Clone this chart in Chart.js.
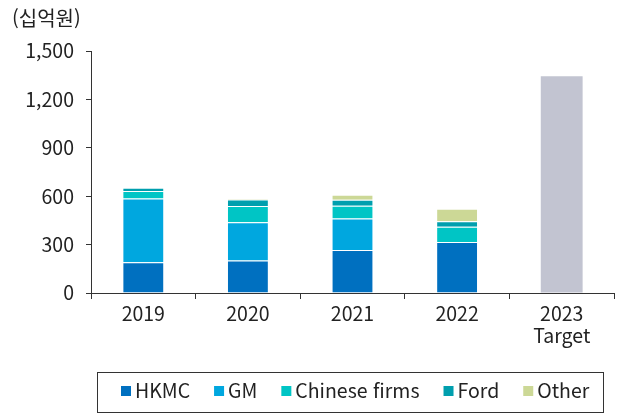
<!DOCTYPE html>
<html lang="ko">
<head>
<meta charset="UTF-8">
<title>배터리 투자</title>
<script src="https://cdn.jsdelivr.net/npm/chart.js"></script>
<style>
    html, body { margin: 0; padding: 0; background: #fff; }
    #wrap { width: 625px; height: 413px; position: relative; }
</style>
</head>
<body>
<div id="wrap"><canvas id="myChart" width="625" height="413"></canvas></div>
<script>
// categories and series (십억원)
const years = ['2019', '2020', '2021', '2022', ['2023', 'Target']];
const hkmc    = [190, 202, 266, 316, null];
const gm      = [396, 236, 196, 0, null];
const chinese = [46, 101, 79, 95, null];
const ford    = [21, 41, 37, 33, null];
const other   = [0, 5, 31, 78, null];
const target  = [null, null, null, null, 1343];
const yTicks  = [0, 300, 600, 900, 1200, 1500];

const FONT = '"Noto Sans CJK KR", "Noto Sans", sans-serif';
const TEXT = '#222';

const series = [
    { label: 'HKMC', data: hkmc, color: '#0070c0' },
    { label: 'GM', data: gm, color: '#00a7df' },
    { label: 'Chinese firms', data: chinese, color: '#00c5c5' },
    { label: 'Ford', data: ford, color: '#009fae' },
    { label: 'Other', data: other, color: '#ccd896' },
];

const datasets = series.map(s => ({
    label: s.label,
    data: s.data,
    backgroundColor: s.color,
    borderColor: 'rgba(255,255,255,0.45)',
    borderWidth: 1,
    stack: 'all',
    barPercentage: 0.4,
    categoryPercentage: 1,
}));
datasets.push({
    label: 'Target',
    data: target,
    backgroundColor: '#c2c4d1',
    borderWidth: 0,
    stack: 'all',
    barPercentage: 0.4,
    categoryPercentage: 1,
});

// unit caption + boxed legend drawn on the canvas
const extras = {
    id: 'extras',
    afterDraw(chart) {
        const ctx = chart.ctx;
        ctx.save();
        ctx.fillStyle = TEXT;
        ctx.textBaseline = 'middle';
        ctx.textAlign = 'left';
        ctx.font = '20px ' + FONT;
        ctx.fillText('(십억원)', 12, 18);

        // legend frame
        ctx.strokeStyle = '#333';
        ctx.lineWidth = 1;
        ctx.strokeRect(97.5, 372.5, 506, 40);

        ctx.font = '19.5px ' + FONT;
        let x = 121;
        const y = 391;
        series.forEach(s => {
            ctx.fillStyle = s.color;
            ctx.fillRect(x, y - 5, 10, 10);
            ctx.fillStyle = TEXT;
            ctx.fillText(s.label, x + 14, y);
            x += 14 + ctx.measureText(s.label).width + 24;
        });
        ctx.restore();
    }
};

const ctx = document.getElementById('myChart').getContext('2d');
new Chart(ctx, {
    type: 'bar',
    data: { labels: years, datasets: datasets },
    plugins: [extras],
    options: {
        responsive: false,
        animation: false,
        layout: { padding: { top: 51, right: 11, left: 0, bottom: 0 } },
        plugins: { legend: { display: false }, tooltip: { enabled: false } },
        scales: {
            x: {
                stacked: true,
                afterFit: scale => { scale.height = 120; },
                grid: { offset: true, drawOnChartArea: false, tickLength: 6, color: '#333' },
                border: { color: '#333', width: 1 },
                ticks: { color: TEXT, font: { family: FONT, size: 19.5, lineHeight: 1.1 }, padding: 4, maxRotation: 0 },
            },
            y: {
                stacked: true,
                min: 0,
                max: 1500,
                afterFit: scale => { scale.width = 91; },
                afterBuildTicks: scale => { scale.ticks = yTicks.map(v => ({ value: v })); },
                grid: { drawOnChartArea: false, tickLength: 5, color: '#333' },
                border: { color: '#333', width: 1 },
                ticks: {
                    color: TEXT,
                    padding: 12,
                    font: { family: FONT, size: 19.5 },
                    callback: v => v.toLocaleString('en-US'),
                },
            },
        },
    },
});
</script>
</body>
</html>
